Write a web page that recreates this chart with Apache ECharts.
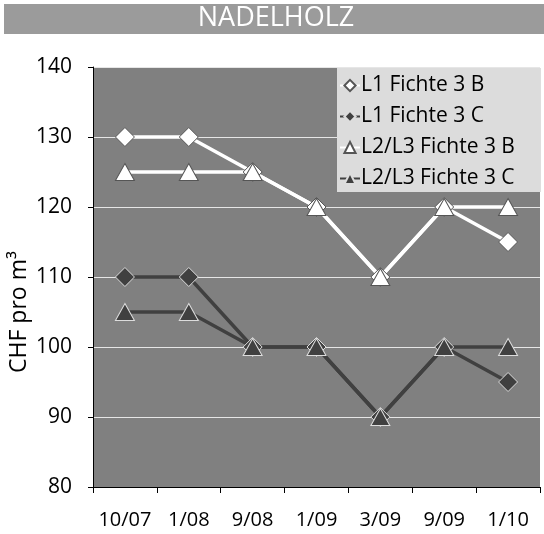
<!DOCTYPE html>
<html><head><meta charset="utf-8">
<script src="https://cdn.jsdelivr.net/npm/echarts@6/dist/echarts.min.js"></script>
<style>html,body{margin:0;padding:0;background:#fff}#c{width:544px;height:534px}</style>
</head><body><div id="c"></div>
<script>
const categories = ['10/07','1/08','9/08','1/09','3/09','9/09','1/10'];
const l1B = [130,130,125,120,110,120,115];
const l1C = [110,110,100,100,90,100,95];
const l23B = [125,125,125,120,110,120,120];
const l23C = [105,105,100,100,90,100,100];
const seriesNames = ['L1 Fichte 3 B','L1 Fichte 3 C','L2/L3 Fichte 3 B','L2/L3 Fichte 3 C'];
const yTicks = {min:80, max:140, interval:10};
const yTitle = 'CHF pro m³';
const chartTitle = 'NADELHOLZ';

const FONT = 'Open Sans';
const chart = echarts.init(document.getElementById('c'));
function mk(name, data, color, symbol, symColor, border) {
  return {
    name, type:'line', data, symbol, symbolSize: symbol==='triangle'?[19,17]:19,
    lineStyle:{color, width:3.5},
    itemStyle:{color:symColor, borderColor:border, borderWidth:1},
    emphasis:{disabled:true}, animation:false
  };
}
chart.setOption({
  animation:false,
  textStyle:{fontFamily:FONT},
  graphic:[
    {type:'rect', shape:{x:4,y:4,width:540,height:30}, style:{fill:'#9b9b9b'}, z:0},
    {type:'text', x:276, y:18, style:{text:chartTitle, fill:'#fff', font:'27px "'+FONT+'"', align:'center', verticalAlign:'middle'}},
    {type:'text', x:19, y:312, rotation:Math.PI/2, style:{text:yTitle, fill:'#000', font:'23px "'+FONT+'"', align:'center', verticalAlign:'middle'}}
  ],
  grid:{left:93, right:4, top:67, bottom:47, show:true, backgroundColor:'#808080', borderWidth:0, outerBoundsMode:'none', containLabel:false},
  legend:{
    left:337, top:68, orient:'vertical', backgroundColor:'#dcdcdc',
    padding:[7,26,3,2], itemGap:10, itemWidth:20, itemHeight:14,
    textStyle:{fontSize:21, lineHeight:20, color:'#000', fontFamily:FONT, padding:[0,0,0,-4]},
    data:seriesNames
  },
  xAxis:{
    type:'category', data:categories, boundaryGap:true,
    axisLine:{lineStyle:{color:'#000', width:1}},
    axisTick:{show:true, length:6, lineStyle:{color:'#000'}},
    axisLabel:{fontSize:20, color:'#000', margin:23, fontFamily:FONT, interval:0},
    splitLine:{show:false}
  },
  yAxis:{
    type:'value', min:yTicks.min, max:yTicks.max, interval:yTicks.interval,
    axisLine:{show:true, lineStyle:{color:'#000'}},
    axisTick:{show:true, length:5, lineStyle:{color:'#000'}},
    axisLabel:{fontSize:21, color:'#000', margin:21, fontFamily:FONT},
    splitLine:{show:true, lineStyle:{color:'#e6e6e6', width:1}}
  },
  series:[
    mk(seriesNames[0], l1B, '#ffffff', 'diamond', '#ffffff', '#555'),
    mk(seriesNames[1], l1C, '#404040', 'diamond', '#404040', '#ddd'),
    mk(seriesNames[2], l23B, '#ffffff', 'triangle', '#ffffff', '#555'),
    mk(seriesNames[3], l23C, '#404040', 'triangle', '#404040', '#ddd')
  ]
});
</script></body></html>
